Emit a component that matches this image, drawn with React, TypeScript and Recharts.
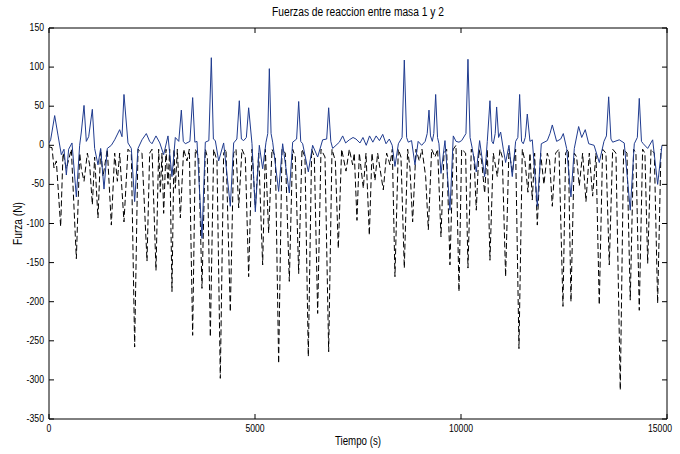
import { LineChart, Line, XAxis, YAxis, ReferenceArea } from 'recharts'

// tiempo (s) y fuerza (N) de la curva continua
const tiempoContinua = [0, 40, 138, 218, 299, 364, 421, 477, 558, 664, 744, 785, 850, 906, 963, 1052, 1108, 1189, 1254, 1335, 1415, 1513, 1594, 1715, 1772, 1820, 1917, 1998, 2079, 2160, 2257, 2362, 2443, 2500, 2597, 2690, 2783, 2888, 2985, 3066, 3150, 3212, 3260, 3309, 3420, 3487, 3540, 3592, 3713, 3794, 3880, 3940, 3990, 4037, 4118, 4239, 4401, 4482, 4560, 4619, 4670, 4725, 4790, 4846, 4927, 5008, 5105, 5186, 5267, 5310, 5348, 5390, 5429, 5574, 5671, 5833, 5914, 6010, 6060, 6110, 6157, 6294, 6399, 6521, 6642, 6740, 6788, 6840, 6885, 7047, 7128, 7200, 7289, 7380, 7451, 7548, 7620, 7700, 7780, 7860, 7940, 8020, 8100, 8180, 8260, 8330, 8397, 8480, 8570, 8624, 8680, 8721, 8800, 8883, 8960, 9045, 9130, 9180, 9223, 9260, 9304, 9340, 9385, 9430, 9465, 9514, 9611, 9732, 9813, 9880, 9951, 10016, 10120, 10169, 10220, 10274, 10371, 10452, 10574, 10638, 10703, 10750, 10784, 10830, 10865, 10913, 10962, 11027, 11083, 11164, 11245, 11326, 11380, 11423, 11470, 11512, 11560, 11609, 11674, 11730, 11852, 11949, 12094, 12160, 12216, 12321, 12420, 12483, 12564, 12669, 12750, 12855, 12930, 13016, 13100, 13230, 13356, 13470, 13530, 13584, 13640, 13681, 13841, 13962, 14108, 14206, 14280, 14327, 14380, 14424, 14531, 14652, 14773, 14878]
const fuerzaContinua = [3, 7, 38, 13, -12, -5, -38, -5, 3, -66, 0, 17, 51, 5, 11, 46, -4, -25, -4, -56, -4, 0, 7, 20, 11, 65, 3, -4, -72, -4, 7, 15, 5, 2, 12, 3, -12, 12, -40, 10, 5, 45, 5, 2, 5, 61, 4, 5, -119, 4, 6, 112, 8, 6, -20, 3, -78, 3, 8, 57, 8, 6, 10, 48, 2, -85, 0, -30, 4, 15, 98, 15, 4, -59, 2, -61, 4, 8, 56, 5, 2, -34, 0, -15, 7, 8, 48, 5, -4, 4, 12, 3, 7, 10, 8, 3, 10, 0, 12, 4, 12, 6, 14, 2, 8, 0, -27, 2, 10, 109, 10, 4, 6, -25, 5, 0, 5, 15, 45, 12, 5, 15, 65, 10, 2, -36, 6, -83, 12, 5, 4, 6, 15, 110, 10, -4, -34, 6, -40, 5, 57, 5, 2, 15, 49, 10, 17, -5, -22, 0, -40, 5, 10, 65, 5, 2, 10, 40, 5, 7, -78, 2, 6, 15, 26, 5, 8, 15, -4, -66, -4, 24, 10, 20, 2, 0, -22, 5, 12, 62, 8, 4, 7, 3, -83, 2, 10, 60, 5, 2, -4, 7, -50, 0]

// tiempo (s) y fuerza (N) de la curva discontinua
const tiempoDiscontinua = [0, 73, 121, 178, 283, 340, 421, 542, 664, 745, 785, 850, 931, 987, 1052, 1108, 1189, 1254, 1311, 1415, 1513, 1594, 1659, 1715, 1820, 1917, 1998, 2079, 2160, 2257, 2379, 2443, 2500, 2597, 2662, 2702, 2743, 2783, 2840, 2888, 2929, 2985, 3034, 3066, 3115, 3188, 3268, 3349, 3406, 3487, 3552, 3633, 3713, 3794, 3843, 3916, 3997, 4077, 4158, 4239, 4296, 4401, 4482, 4539, 4604, 4684, 4765, 4846, 4927, 5008, 5089, 5186, 5251, 5331, 5413, 5494, 5574, 5655, 5736, 5833, 5914, 5979, 6060, 6141, 6213, 6294, 6375, 6440, 6521, 6602, 6699, 6788, 6869, 6950, 7022, 7103, 7209, 7289, 7370, 7410, 7475, 7532, 7629, 7694, 7775, 7839, 7912, 7977, 8034, 8114, 8195, 8276, 8333, 8397, 8478, 8543, 8624, 8705, 8762, 8826, 8907, 8988, 9053, 9142, 9207, 9288, 9369, 9433, 9514, 9587, 9652, 9732, 9813, 9878, 9951, 10016, 10112, 10169, 10250, 10315, 10371, 10436, 10501, 10574, 10638, 10703, 10784, 10881, 10946, 11002, 11083, 11164, 11245, 11326, 11407, 11488, 11552, 11625, 11674, 11730, 11787, 11852, 11932, 12013, 12094, 12151, 12216, 12297, 12378, 12475, 12539, 12605, 12669, 12750, 12807, 12871, 12952, 13033, 13114, 13195, 13276, 13356, 13437, 13518, 13599, 13681, 13761, 13866, 13947, 14028, 14108, 14189, 14246, 14327, 14408, 14464, 14531, 14612, 14692, 14773, 14854]
const fuerzaDiscontinua = [-2, -3, -29, -20, -104, -10, -30, -5, -145, -10, -30, -46, -10, -25, -76, -15, -93, -5, -40, -5, -102, -10, -46, -10, -98, -5, -10, -258, -5, -10, -148, -10, -5, -160, -5, -60, -10, -87, -5, -50, -5, -187, -5, -55, -5, -93, -5, -20, -5, -243, -5, -15, -183, -5, -15, -245, -5, -20, -298, -10, -5, -213, -10, -5, -80, -5, -15, -168, -5, -80, -10, -153, -5, -112, -5, -15, -279, -5, -10, -174, -5, -15, -164, -5, -15, -270, -5, -15, -215, -5, -15, -264, -5, -20, -132, -5, -33, -5, -25, -10, -96, -10, -55, -10, -115, -10, -45, -10, -30, -57, -10, -25, -5, -168, -5, -15, -157, -5, -30, -98, -5, -20, -5, -40, -108, -5, -15, -5, -117, -10, -5, -153, -5, 0, -187, -5, -10, -157, -5, -15, -83, -5, -20, -61, -5, -147, -10, -40, -5, -15, -168, -5, -35, -5, -260, -5, -20, -60, -10, -70, -10, -102, -10, -50, -10, -20, -78, -10, -5, -206, -10, -5, -200, -10, -15, -52, -10, -72, -10, -65, -10, -204, -5, -10, -153, -5, -10, -313, -5, -10, -198, -5, -10, -211, -5, -10, -151, -5, -10, -202, -5]

const xTicks = [0, 5000, 10000, 15000]
const yTicks = [-350, -300, -250, -200, -150, -100, -50, 0, 50, 100, 150]

const continua = tiempoContinua.map((t, i) => ({ t, f: fuerzaContinua[i] }))
const discontinua = tiempoDiscontinua.map((t, i) => ({ t, f: fuerzaDiscontinua[i] }))

const FONT = "'Liberation Sans', Arial, sans-serif"
const TOP = 28
const BOTTOM = 419
const LEFT = 49
const RIGHT = 667

// narrow, MATLAB-like labels: squeeze glyphs to a fixed width per character
const labelWidth = (s: string) => s.split('').reduce((w, c) => w + (c === '-' ? 3 : 4.8), 0)

const XTick = ({ x, payload }: any) => {
  const s = String(payload.value)
  const atEdge = x > RIGHT - 1
  return (
    <g>
      <line x1={x} x2={x} y1={BOTTOM} y2={BOTTOM - 5} stroke="#000" />
      <line x1={x} x2={x} y1={TOP} y2={TOP + 5} stroke="#000" />
      <text x={atEdge ? 672 : x} y={BOTTOM + 13} textAnchor={atEdge ? 'end' : 'middle'} fontSize={11} fontFamily={FONT} fill="#000"
        textLength={labelWidth(s)} lengthAdjust="spacingAndGlyphs">{s}</text>
    </g>
  )
}

const YTick = ({ y, payload }: any) => {
  const s = String(payload.value)
  return (
    <g>
      <line x1={LEFT} x2={LEFT + 5} y1={y} y2={y} stroke="#000" />
      <line x1={RIGHT} x2={RIGHT - 5} y1={y} y2={y} stroke="#000" />
      <text x={LEFT - 5} y={y + 3} textAnchor="end" fontSize={11} fontFamily={FONT} fill="#000"
        textLength={labelWidth(s)} lengthAdjust="spacingAndGlyphs">{s}</text>
    </g>
  )
}

export default function App() {
  const midX = (LEFT + RIGHT) / 2
  const midY = (TOP + BOTTOM) / 2
  return (
    <div style={{ position: 'absolute', left: 0, top: 0, width: 680, height: 454, background: '#fff' }}>
      <LineChart width={680} height={454} data={continua} margin={{ top: TOP, right: 680 - RIGHT, bottom: 0, left: 9 }}>
        <XAxis dataKey="t" type="number" domain={[0, 15000]} ticks={xTicks} height={35}
          axisLine={false} tickLine={false} tick={<XTick />} interval={0} allowDataOverflow />
        <YAxis type="number" domain={[-350, 150]} ticks={yTicks} width={40}
          axisLine={false} tickLine={false} tick={<YTick />} interval={0} allowDataOverflow />
        <ReferenceArea x1={0} x2={15000} y1={-350} y2={150} fill="none" stroke="#000" strokeWidth={1} ifOverflow="visible" />
        <Line data={discontinua} dataKey="f" type="linear" stroke="#000" strokeWidth={1} strokeDasharray="6 3" dot={false} isAnimationActive={false} />
        <Line data={continua} dataKey="f" type="linear" stroke="#1f3b8f" strokeWidth={1} dot={false} isAnimationActive={false} />
        <text x={midX} y={16} textAnchor="middle" fontSize={12} fontFamily={FONT} fill="#000"
          textLength={172} lengthAdjust="spacingAndGlyphs">Fuerzas de reaccion entre masa 1 y 2</text>
        <text x={midX} y={445} textAnchor="middle" fontSize={12} fontFamily={FONT} fill="#000"
          textLength={46} lengthAdjust="spacingAndGlyphs">Tiempo (s)</text>
        <text x={22} y={midY} textAnchor="middle" fontSize={12} fontFamily={FONT} fill="#000"
          textLength={43} lengthAdjust="spacingAndGlyphs" transform={`rotate(-90, 22, ${midY})`}>Furza (N)</text>
      </LineChart>
    </div>
  )
}
